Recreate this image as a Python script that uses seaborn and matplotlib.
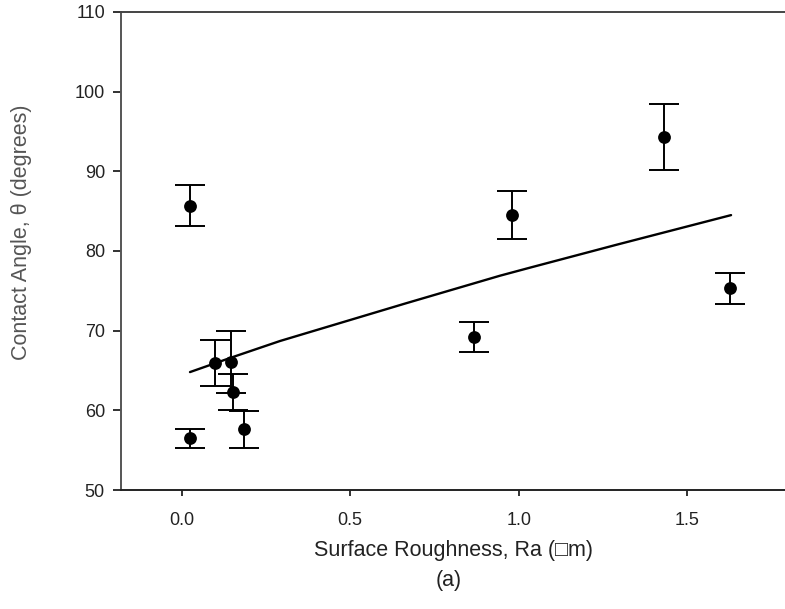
import seaborn as sns
import matplotlib.pyplot as plt
import pandas as pd

# measured points (surface roughness vs contact angle)
roughness = [0.025, 0.025, 0.10, 0.146, 0.152, 0.185, 0.867, 0.98, 1.43, 1.627]
angle = [56.5, 85.7, 65.9, 66.1, 62.3, 57.6, 69.2, 84.5, 94.3, 75.3]
angle_err = [1.2, 2.6, 2.9, 3.9, 2.3, 2.3, 1.9, 3.0, 4.1, 1.9]

# fitted curve
fit_x = [0.025, 0.146, 0.292, 0.663, 0.945, 1.033, 1.292, 1.63]
fit_y = [64.8, 66.6, 68.7, 73.4, 76.9, 77.9, 80.8, 84.5]

x_ticks = [0.0, 0.5, 1.0, 1.5]
x_tick_labels = ["0.0", "0.5", "1.0", "1.5"]
y_ticks = [50, 60, 70, 80, 90, 100, 110]

sns.set_style("ticks")
plt.rcParams["font.family"] = ["Liberation Sans", "DejaVu Sans"]

df = pd.DataFrame({"Ra": roughness, "theta": angle, "err": angle_err})
fit = pd.DataFrame({"Ra": fit_x, "theta": fit_y})

fig = plt.figure(figsize=(7.85, 6.09), dpi=100)
ax = fig.add_axes([0.154, 0.1954, 0.846, 0.785])

ax.errorbar(df["Ra"], df["theta"], yerr=df["err"], fmt="none",
            ecolor="black", elinewidth=1.4, capsize=10.5, capthick=1.4, zorder=2)
sns.lineplot(data=fit, x="Ra", y="theta", ax=ax, color="black",
             linewidth=1.7, sort=False, zorder=3)
sns.scatterplot(data=df, x="Ra", y="theta", ax=ax, color="black",
                s=85, edgecolor="black", linewidth=0, zorder=4)

ax.set_xlim(-0.18, 1.79)
ax.set_ylim(50, 110)
ax.set_xticks(x_ticks)
ax.set_xticklabels(x_tick_labels)
ax.set_yticks(y_ticks)
ax.tick_params(axis="y", direction="out", length=5.5, width=1.3,
               labelsize=13, colors="#222222", pad=6)
ax.tick_params(axis="x", direction="out", length=4, width=1.3,
               labelsize=13, colors="#222222", pad=12)
ax.set_xlabel("")
ax.set_ylabel("")

for side in ["left", "bottom", "top"]:
    ax.spines[side].set_visible(True)
    ax.spines[side].set_linewidth(1.4)
ax.spines["left"].set_color("#555555")
ax.spines["bottom"].set_color("#222222")
ax.spines["top"].set_color("#444444")
ax.spines["right"].set_visible(False)

fig.text(0.578, 0.096, "Surface Roughness, Ra (\u25a1m)", ha="center",
         va="center", fontsize=15.5, color="#222222")
fig.text(0.572, 0.046, "(a)", ha="center", va="center", fontsize=15.5,
         color="#222222")
fig.text(0.027, 0.619, "Contact Angle, \u03b8 (degrees)", rotation=90,
         ha="center", va="center", fontsize=15.5, color="#555555")

plt.savefig("out.png", dpi=100)
plt.close()
